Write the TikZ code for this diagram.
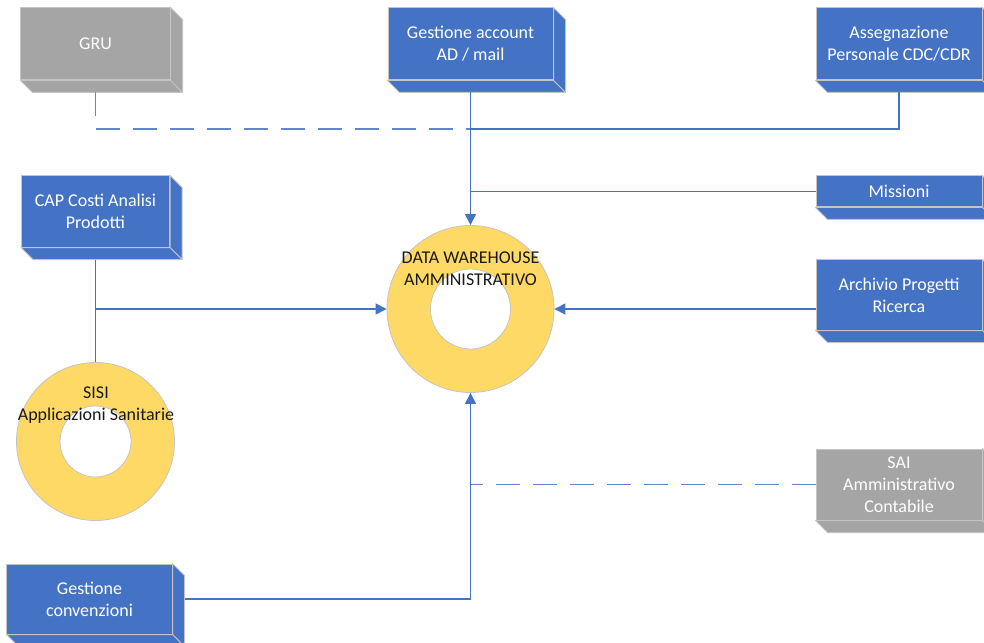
\documentclass[tikz,border=0pt]{standalone}
\usepackage{fontspec}
\setmainfont{Carlito}
\usetikzlibrary{arrows.meta}
\definecolor{boxblue}{HTML}{4472C4}
\definecolor{boxgray}{HTML}{A5A5A5}
\definecolor{edgegray}{HTML}{C4C4C4}
\definecolor{linkblue}{HTML}{4472C4}
\definecolor{donutfill}{HTML}{FFD966}
\tikzset{
  box3d/.style={draw=edgegray, line width=1bp, fill=#1, text=white, align=center, inner sep=0pt,
    font=\fontsize{18bp}{22bp}\selectfont},
  conn/.style={draw=linkblue, line width=1.2bp},
  dconn/.style={draw=linkblue!85, line width=1.9bp, dash pattern=on 24bp off 13bp},
  tip/.style={-{Triangle[length=11bp,width=11bp]}},
  ring/.style={circle, draw=edgegray, line width=0.8bp, fill=donutfill, inner sep=0pt},
  hole/.style={circle, draw=edgegray, line width=0.8bp, fill=white, inner sep=0pt},
  dtext/.style={align=center, text=black!90, inner sep=0pt, font=\fontsize{18bp}{22bp}\selectfont},
}
\begin{document}
\begin{tikzpicture}[x=1bp, y=-1bp]
\useasboundingbox (0,0) rectangle (984,643);
\clip (0,0) rectangle (984,643);
% boxes (front faces)
\node[box3d=boxgray, minimum width=149bp, minimum height=72bp] (gru) at (95.5,44) {GRU};
\node[box3d=boxblue, minimum width=165bp, minimum height=72bp] (acc) at (470.5,44) {Gestione account\\AD / mail};
\node[box3d=boxblue, minimum width=166bp, minimum height=72bp] (ass) at (899,44) {Assegnazione\\Personale CDC/CDR};
\node[box3d=boxblue, minimum width=166bp, minimum height=31bp] (mis) at (899,191.5) {Missioni};
\node[box3d=boxblue, minimum width=148bp, minimum height=71bp] (cap) at (95.5,211.5) {CAP Costi Analisi\\Prodotti};
\node[box3d=boxblue, minimum width=166bp, minimum height=70bp] (arc) at (899,295) {Archivio Progetti\\Ricerca};
\node[box3d=boxgray, minimum width=166bp, minimum height=71bp] (sai) at (899,484.5) {SAI\\Amministrativo\\Contabile};
\node[box3d=boxblue, minimum width=165bp, minimum height=70bp] (conv) at (89.5,599) {Gestione\\convenzioni};
% depth faces
\foreach \n/\c in {gru/boxgray, acc/boxblue, ass/boxblue, mis/boxblue, cap/boxblue, arc/boxblue, sai/boxgray, conv/boxblue}{
  \filldraw[fill=\c, draw=edgegray, line width=1bp, line join=round]
    (\n.north east) -- ++(12,12) -- ([shift={(12,12)}]\n.south east) -- (\n.south east) -- cycle;
  \filldraw[fill=\c, draw=edgegray, line width=1bp, line join=round]
    (\n.south west) -- ++(12,12) -- ([shift={(12,12)}]\n.south east) -- (\n.south east) -- cycle;
}
% donuts
\node[ring, minimum size=167bp] (dw) at (470.5,309) {};
\node[hole, minimum size=80bp] (dwh) at (dw.center) {};
\node[dtext] (dwt) at (470.5,269) {DATA WAREHOUSE\\AMMINISTRATIVO};
\node[ring, minimum size=158bp] (sisi) at (95.5,441.5) {};
\node[hole, minimum size=71bp] (sisih) at (sisi.center) {};
\node[dtext] (sisit) at (96,405.5) {SISI\\Applicazioni Sanitarie};
% junction coordinates
\coordinate (jtop) at (470.5,129);
\coordinate (jmis) at (jtop |- mis.west);
\coordinate (jsai) at (jtop |- sai.west);
% connectors
\draw[dconn] (gru.south) ++(0,12) |- (jtop);
\draw[conn] (ass.south) ++(0,12) |- (jtop);
\draw[conn] (mis.west) -- (jmis);
\draw[conn, tip] (acc.south) ++(0,12) -- (dw.north);
\draw[conn] (cap.south) ++(0,12) -- (sisi.north);
\draw[conn, tip] (cap.south) ++(0,12) |- (dw.west);
\draw[conn, tip] (arc.west |- dw.west) -- (dw.east);
\draw[dconn] (sai.west) -- (jsai);
\draw[conn, tip] (conv.east) ++(12,0) -| (dw.south);
\end{tikzpicture}
\end{document}
